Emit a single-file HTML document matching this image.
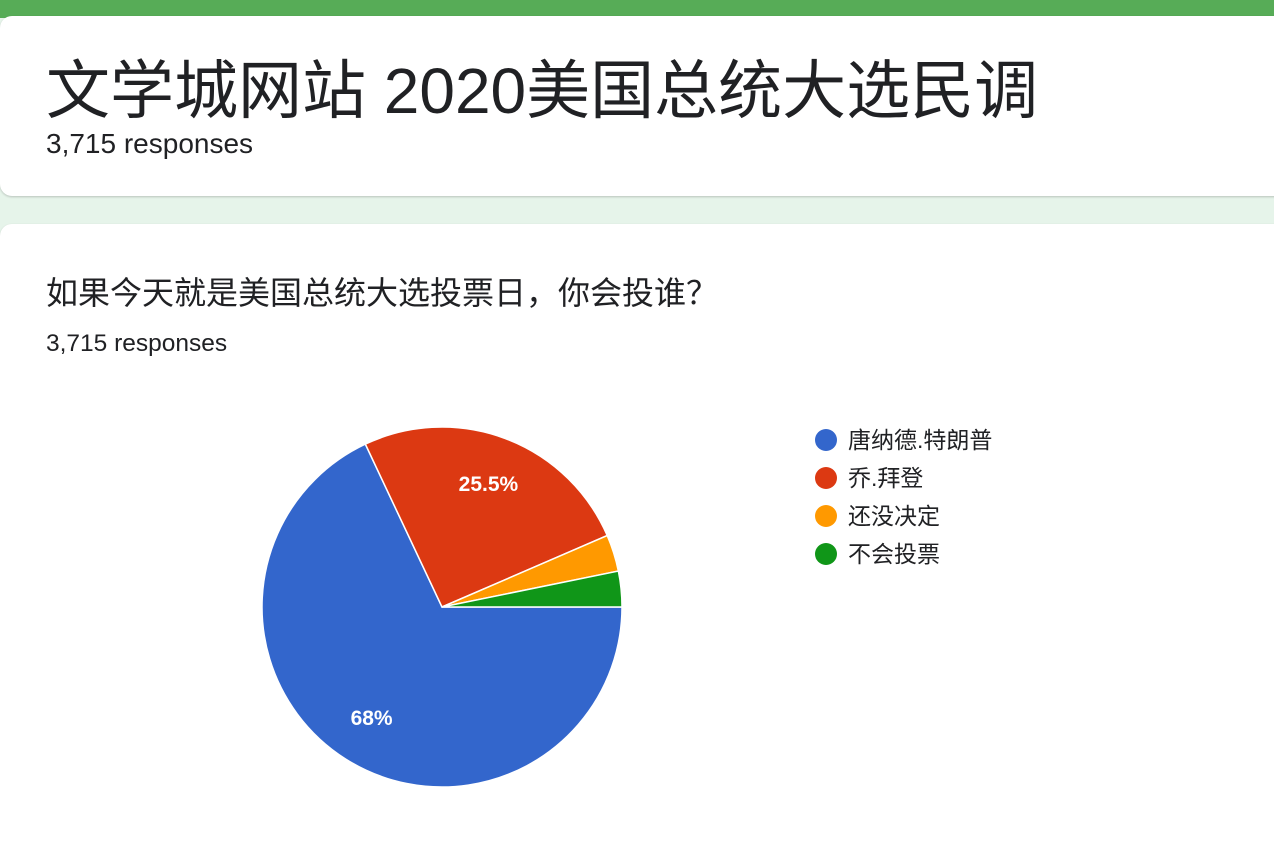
<!DOCTYPE html>
<html><head><meta charset="utf-8">
<style>
body{margin:0;width:1274px;height:856px;overflow:hidden;background:#e6f4ea;font-family:"Liberation Sans","Noto Sans CJK SC",sans-serif;color:#202124;position:relative}
#topbar{position:absolute;left:0;top:0;width:1274px;height:18px;background:#57ac57}
.card{position:absolute;left:0;width:1290px;background:#fff;border-radius:12px;box-shadow:0 1px 2px rgba(0,0,0,.2)}
#c1{top:16px;height:180px}
#c2{top:224px;height:632px;border-bottom-left-radius:0;border-bottom-right-radius:0}
.t{position:absolute;white-space:nowrap}
</style></head><body>
<div id="topbar"></div>
<div class="card" id="c1">
 <div class="t" style="left:46px;top:37px;font-size:64px;line-height:76px">文学城网站 2020美国总统大选民调</div>
 <div class="t" style="left:46px;top:112px;font-size:28px">3,715 responses</div>
</div>
<div class="card" id="c2">
 <div class="t" style="left:46px;top:44px;font-size:32px">如果今天就是美国总统大选投票日，你会投谁？</div>
 <div class="t" style="left:46px;top:106px;font-size:24.5px">3,715 responses</div>
</div>
<svg id="chart" width="1274" height="856" style="position:absolute;left:0;top:0"></svg>
<script>
const labels=["唐纳德.特朗普","乔.拜登","还没决定","不会投票"];
const values=[68,25.5,3.3,3.2];
const pctLabels=["68%","25.5%","",""];
const colors=["#3366cc","#dc3912","#ff9900","#109618"];
const NS="http://www.w3.org/2000/svg";
const svg=document.getElementById('chart');
const cx=442,cy=607,r=180;
const total=values.reduce((a,b)=>a+b,0);
let a=Math.PI/2;
function pt(ang,rr){return [cx+rr*Math.sin(ang),cy-rr*Math.cos(ang)];}
values.forEach((v,i)=>{
 const sweep=v/total*2*Math.PI;
 const [x1,y1]=pt(a,r),[x2,y2]=pt(a+sweep,r);
 const p=document.createElementNS(NS,'path');
 p.setAttribute('d',`M${cx},${cy}L${x1},${y1}A${r},${r} 0 ${sweep>Math.PI?1:0} 1 ${x2},${y2}Z`);
 p.setAttribute('fill',colors[i]);p.setAttribute('stroke','#fff');p.setAttribute('stroke-width','1.5');
 
 
 svg.appendChild(p);
 if(pctLabels[i]){
  const [tx,ty]=pt(a+sweep/2,r*0.73);
  const t=document.createElementNS(NS,'text');
  t.setAttribute('x',tx);t.setAttribute('y',ty+7);t.setAttribute('text-anchor','middle');
  t.setAttribute('fill','#fff');t.setAttribute('font-size','21');t.setAttribute('font-weight','bold');
  t.setAttribute('font-family','Liberation Sans, sans-serif');
  t.textContent=pctLabels[i];
  
  
  svg.appendChild(t);
 }
 a+=sweep;
});
labels.forEach((l,i)=>{
 const y=440+i*38;
 const c=document.createElementNS(NS,'circle');
 c.setAttribute('cx',826);c.setAttribute('cy',y);c.setAttribute('r',11);c.setAttribute('fill',colors[i]);
 
 
 svg.appendChild(c);
 const t=document.createElementNS(NS,'text');
 t.setAttribute('x',848);t.setAttribute('y',y+8);t.setAttribute('font-size','23');
 t.setAttribute('fill','#202124');
 t.setAttribute('font-family','Liberation Sans, Noto Sans CJK SC, sans-serif');
 t.textContent=l;
 
 
 svg.appendChild(t);
});
</script>
</body></html>
